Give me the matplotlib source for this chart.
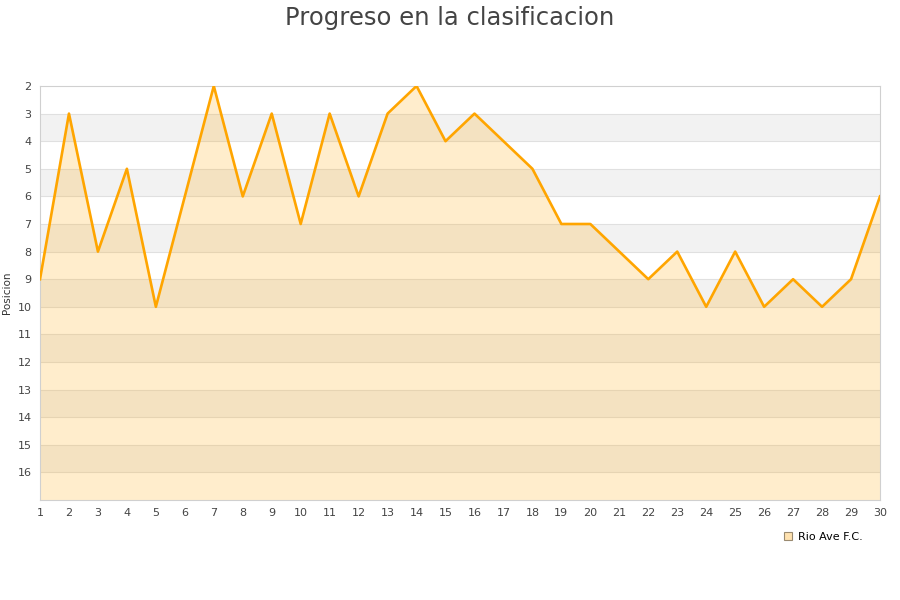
import matplotlib.pyplot as plt
from matplotlib.lines import Line2D

# Posicion por jornada (Rio Ave F.C.)
jornadas = list(range(1, 31))
posiciones = [9, 3, 8, 5, 10, 6, 2, 6, 3, 7, 3, 6, 3, 2, 4, 3, 4, 5, 7, 7,
              8, 9, 8, 10, 8, 10, 9, 10, 9, 6]
y_ticks = list(range(2, 17))
equipo = 'Rio Ave F.C.'

fig = plt.figure(figsize=(9, 6), dpi=100)
ax = fig.add_axes([40 / 900, 100 / 600, 840 / 900, 414 / 600])

# alternating bands
for y0 in range(3, 17, 2):
    ax.axhspan(y0, y0 + 1, color='#f2f2f2', zorder=0, lw=0)
for y in range(3, 17):
    ax.axhline(y, color='#e0e0e0', lw=0.8, zorder=1)

ax.fill_between(jornadas, posiciones, 17, color='#ffa500', alpha=0.2, lw=0, zorder=2)
ax.plot(jornadas, posiciones, color='#ffa500', lw=1.9, zorder=3)

ax.set_xlim(1, 30)
ax.set_ylim(17, 2)
ax.set_xticks(jornadas)
ax.set_yticks(y_ticks)
ax.tick_params(length=0, labelsize=8, colors='#444444', pad=6)
for s in ax.spines.values():
    s.set_color('#d0d0d0')
ax.set_ylabel('Posicion', fontsize=7.5, color='#333333', labelpad=4)

fig.suptitle('Progreso en la clasificacion', fontsize=17.5, color='#444444', y=0.99)

handle = Line2D([], [], marker='s', ls='', markersize=6, markerfacecolor='#ffe2b0',
                markeredgecolor='#9a8a70', markeredgewidth=0.8)
fig.legend([handle], [equipo], loc='center', bbox_to_anchor=(823 / 900, 1 - 537 / 600),
           frameon=False, fontsize=8, handletextpad=0.4, handlelength=1.0)

fig.savefig('out.png', dpi=100)
